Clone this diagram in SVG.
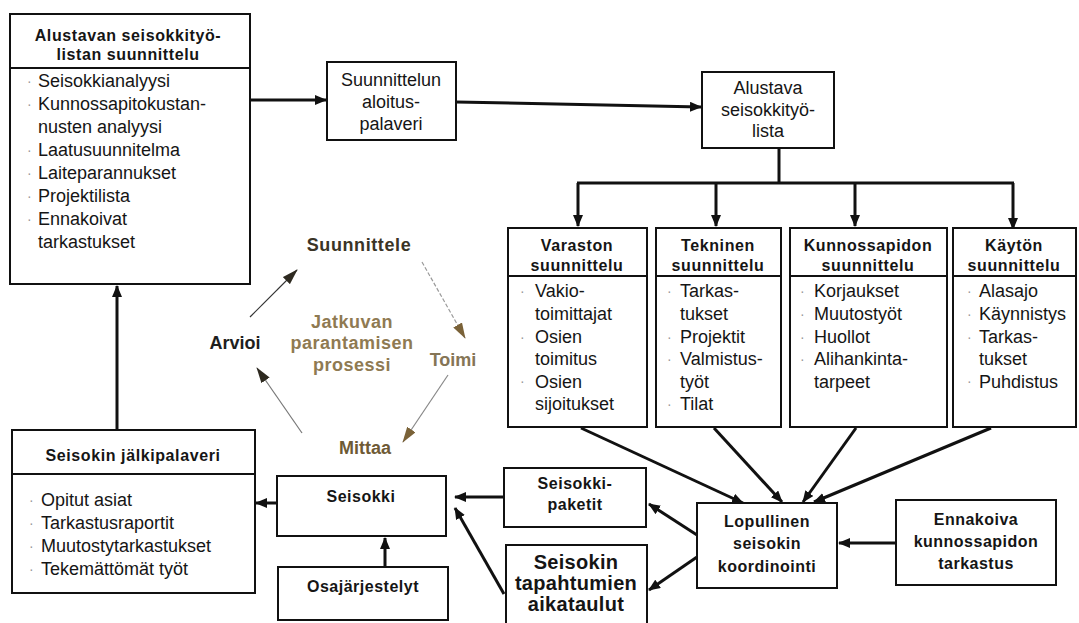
<svg xmlns="http://www.w3.org/2000/svg" width="1079" height="623" viewBox="0 0 1079 623">
<style>
.box{fill:#fff;stroke:#111;stroke-width:2}
.t{font-family:"Liberation Sans",Arial,sans-serif;fill:#151515}
.it{font-size:18px}
.hd{font-size:16px;font-weight:bold;letter-spacing:0.6px;text-anchor:middle}
.c{text-anchor:middle}
.b{font-size:16px;font-weight:bold;text-anchor:middle;letter-spacing:0.5px}
.bul{fill:#999;font-size:14px}
.con{stroke:#111;stroke-width:3;fill:none}
.cy{font-family:"Liberation Sans",Arial,sans-serif;font-weight:bold;font-size:18px;text-anchor:middle}
</style>
<defs>
<marker id="ah" viewBox="0 0 12 10" refX="11" refY="5" markerWidth="4" markerHeight="3.4" orient="auto" markerUnits="strokeWidth">
<path d="M0,0 L12,5 L0,10 z" fill="#111"/>
</marker>
<marker id="cyd" viewBox="0 0 16 10" refX="15" refY="5" markerWidth="16" markerHeight="10" orient="auto" markerUnits="userSpaceOnUse">
<path d="M0,0 L16,5 L0,10 z" fill="#2e2a20"/>
</marker>
<marker id="cyb" viewBox="0 0 16 10" refX="15" refY="5" markerWidth="16" markerHeight="10" orient="auto" markerUnits="userSpaceOnUse">
<path d="M0,0 L16,5 L0,10 z" fill="#7a6238"/>
</marker>
</defs>

<g id="connectors">
<line class="con" x1="250" y1="100" x2="326" y2="100" marker-end="url(#ah)"/>
<line class="con" x1="456" y1="102" x2="701" y2="107" marker-end="url(#ah)"/>
<polyline class="con" points="779,148 779,183"/>
<line class="con" x1="577" y1="183" x2="1014" y2="183"/>
<line class="con" x1="578" y1="183" x2="578" y2="226" marker-end="url(#ah)"/>
<line class="con" x1="716" y1="183" x2="716" y2="226" marker-end="url(#ah)"/>
<line class="con" x1="855" y1="183" x2="855" y2="226" marker-end="url(#ah)"/>
<line class="con" x1="1013" y1="183" x2="1013" y2="229" marker-end="url(#ah)"/>
<line class="con" x1="581" y1="428" x2="743" y2="503" marker-end="url(#ah)"/>
<line class="con" x1="714" y1="428" x2="782" y2="502" marker-end="url(#ah)"/>
<line class="con" x1="856" y1="428" x2="803" y2="502" marker-end="url(#ah)"/>
<line class="con" x1="991" y1="428" x2="814" y2="502" marker-end="url(#ah)"/>
<line class="con" x1="896" y1="543" x2="839" y2="543" marker-end="url(#ah)"/>
<line class="con" x1="697" y1="535" x2="649" y2="504" marker-end="url(#ah)"/>
<line class="con" x1="697" y1="557" x2="649" y2="590" marker-end="url(#ah)"/>
<line class="con" x1="504" y1="497" x2="455" y2="497" marker-end="url(#ah)"/>
<line class="con" x1="504" y1="594" x2="455" y2="508" marker-end="url(#ah)"/>
<line class="con" x1="277" y1="503" x2="256" y2="503" marker-end="url(#ah)"/>
<line class="con" x1="385" y1="567" x2="385" y2="538" marker-end="url(#ah)"/>
<line class="con" x1="117" y1="430" x2="117" y2="286" marker-end="url(#ah)"/>
<line x1="250" y1="317" x2="297" y2="270" stroke="#333" stroke-width="1.2" marker-end="url(#cyd)"/>
<line x1="422" y1="262" x2="465" y2="338" stroke="#9a9a9a" stroke-width="1.2" stroke-dasharray="4,2" marker-end="url(#cyb)"/>
<line x1="448" y1="375" x2="403" y2="442" stroke="#888" stroke-width="1.2" marker-end="url(#cyb)"/>
<line x1="302" y1="433" x2="257" y2="368" stroke="#777" stroke-width="1.2" marker-end="url(#cyd)"/>
</g>

<g id="alustavan-suunnittelu">
<rect class="box" x="10" y="14" width="240" height="270"/>
<line x1="10" y1="68" x2="250" y2="68" stroke="#111" stroke-width="2"/>
<text class="t hd" x="128" y="41">Alustavan seisokkityö-</text>
<text class="t hd" x="128" y="60">listan suunnittelu</text>
<g class="t bul"><text x="27" y="86">·</text><text x="27" y="109">·</text><text x="27" y="155">·</text><text x="27" y="178">·</text><text x="27" y="201">·</text><text x="27" y="224">·</text></g>
<text class="t it" x="38" y="87">Seisokkianalyysi</text>
<text class="t it" x="38" y="110">Kunnossapitokustan-</text>
<text class="t it" x="38" y="133">nusten analyysi</text>
<text class="t it" x="38" y="156">Laatusuunnitelma</text>
<text class="t it" x="38" y="179">Laiteparannukset</text>
<text class="t it" x="38" y="202">Projektilista</text>
<text class="t it" x="38" y="225">Ennakoivat</text>
<text class="t it" x="38" y="248">tarkastukset</text>
</g>

<g id="suunnittelun-aloituspalaveri">
<rect class="box" x="327" y="62" width="129" height="78"/>
<text class="t it c" x="391" y="86">Suunnittelun</text>
<text class="t it c" x="391" y="108">aloitus-</text>
<text class="t it c" x="391" y="130">palaveri</text>
</g>

<g id="alustava-seisokkityolista">
<rect class="box" x="702" y="72" width="132" height="76"/>
<text class="t it c" x="768" y="94">Alustava</text>
<text class="t it c" x="768" y="116">seisokkityö-</text>
<text class="t it c" x="768" y="137">lista</text>
</g>

<g id="varaston-suunnittelu">
<rect class="box" x="508" y="228" width="139" height="199"/>
<line x1="508" y1="276" x2="647" y2="276" stroke="#111" stroke-width="2"/>
<text class="t hd" x="577" y="251">Varaston</text>
<text class="t hd" x="577" y="271">suunnittelu</text>
<g class="t bul"><text x="520" y="296">·</text><text x="520" y="342">·</text><text x="520" y="386">·</text></g>
<text class="t it" x="535" y="297">Vakio-</text>
<text class="t it" x="535" y="320">toimittajat</text>
<text class="t it" x="535" y="343">Osien</text>
<text class="t it" x="535" y="365">toimitus</text>
<text class="t it" x="535" y="388">Osien</text>
<text class="t it" x="535" y="410">sijoitukset</text>
</g>

<g id="tekninen-suunnittelu">
<rect class="box" x="656" y="228" width="125" height="199"/>
<line x1="656" y1="276" x2="781" y2="276" stroke="#111" stroke-width="2"/>
<text class="t hd" x="718" y="251">Tekninen</text>
<text class="t hd" x="718" y="271">suunnittelu</text>
<g class="t bul"><text x="667" y="296">·</text><text x="667" y="342">·</text><text x="667" y="364">·</text><text x="667" y="409">·</text></g>
<text class="t it" x="680" y="297">Tarkas-</text>
<text class="t it" x="680" y="320">tukset</text>
<text class="t it" x="680" y="343">Projektit</text>
<text class="t it" x="680" y="365">Valmistus-</text>
<text class="t it" x="680" y="388">työt</text>
<text class="t it" x="680" y="410">Tilat</text>
</g>

<g id="kunnossapidon-suunnittelu">
<rect class="box" x="790" y="228" width="157" height="199"/>
<line x1="790" y1="276" x2="947" y2="276" stroke="#111" stroke-width="2"/>
<text class="t hd" x="868" y="251">Kunnossapidon</text>
<text class="t hd" x="868" y="271">suunnittelu</text>
<g class="t bul"><text x="800" y="296">·</text><text x="800" y="319">·</text><text x="800" y="342">·</text><text x="800" y="364">·</text></g>
<text class="t it" x="814" y="297">Korjaukset</text>
<text class="t it" x="814" y="320">Muutostyöt</text>
<text class="t it" x="814" y="343">Huollot</text>
<text class="t it" x="814" y="365">Alihankinta-</text>
<text class="t it" x="814" y="388">tarpeet</text>
</g>

<g id="kayton-suunnittelu">
<rect class="box" x="953" y="228" width="123" height="199"/>
<line x1="953" y1="276" x2="1076" y2="276" stroke="#111" stroke-width="2"/>
<text class="t hd" x="1014" y="251">Käytön</text>
<text class="t hd" x="1014" y="271">suunnittelu</text>
<g class="t bul"><text x="967" y="296">·</text><text x="967" y="319">·</text><text x="967" y="342">·</text><text x="967" y="386">·</text></g>
<text class="t it" x="979" y="297">Alasajo</text>
<text class="t it" x="979" y="320">Käynnistys</text>
<text class="t it" x="979" y="343">Tarkas-</text>
<text class="t it" x="979" y="365">tukset</text>
<text class="t it" x="979" y="388">Puhdistus</text>
</g>

<g id="seisokin-jalkipalaveri">
<rect class="box" x="12" y="430" width="243" height="163"/>
<line x1="12" y1="474" x2="255" y2="474" stroke="#111" stroke-width="2"/>
<text class="t hd" x="133" y="461">Seisokin jälkipalaveri</text>
<g class="t bul"><text x="29" y="505">·</text><text x="29" y="528">·</text><text x="29" y="551">·</text><text x="29" y="574">·</text></g>
<text class="t it" x="41" y="506">Opitut asiat</text>
<text class="t it" x="41" y="529">Tarkastusraportit</text>
<text class="t it" x="41" y="552">Muutostytarkastukset</text>
<text class="t it" x="41" y="575">Tekemättömät työt</text>
</g>

<g id="seisokki">
<rect class="box" x="277" y="476" width="169" height="60"/>
<text class="t b" x="361" y="502">Seisokki</text>
</g>

<g id="osajarjestelyt">
<rect class="box" x="278" y="567" width="170" height="53"/>
<text class="t b" x="363" y="592">Osajärjestelyt</text>
</g>

<g id="seisokkipaketit">
<rect class="box" x="504" y="468" width="142" height="59"/>
<text class="t b" x="575" y="489">Seisokki-</text>
<text class="t b" x="575" y="510">paketit</text>
</g>

<g id="seisokin-tapahtumien-aikataulut">
<rect class="box" x="506" y="545" width="141" height="90"/>
<text class="t b" x="576" y="569" style="font-size:20px;letter-spacing:0.3px">Seisokin</text>
<text class="t b" x="576" y="590" style="font-size:20px;letter-spacing:0.3px">tapahtumien</text>
<text class="t b" x="576" y="611" style="font-size:20px;letter-spacing:0.3px">aikataulut</text>
</g>

<g id="lopullinen-koordinointi">
<rect class="box" x="697" y="503" width="140" height="85"/>
<text class="t b" x="767" y="527">Lopullinen</text>
<text class="t b" x="767" y="549">seisokin</text>
<text class="t b" x="767" y="572">koordinointi</text>
</g>

<g id="ennakoiva-tarkastus">
<rect class="box" x="896" y="500" width="160" height="85"/>
<text class="t b" x="976" y="525">Ennakoiva</text>
<text class="t b" x="976" y="547">kunnossapidon</text>
<text class="t b" x="976" y="569">tarkastus</text>
</g>

<g id="jatkuvan-parantamisen-prosessi">
<text class="cy" x="359" y="251" fill="#3a3426" style="letter-spacing:0.6px">Suunnittele</text>
<text class="cy" x="453" y="366" fill="#857556">Toimi</text>
<text class="cy" x="365" y="454" fill="#6e5a35">Mittaa</text>
<text class="cy" x="235" y="349" fill="#1e1e1e">Arvioi</text>
<text class="cy" x="352" y="328" fill="#8f7a52" style="letter-spacing:0.5px">Jatkuvan</text>
<text class="cy" x="352" y="349" fill="#8f7a52" style="letter-spacing:0.5px">parantamisen</text>
<text class="cy" x="352" y="371" fill="#8f7a52" style="letter-spacing:0.5px">prosessi</text>
</g>
</svg>
